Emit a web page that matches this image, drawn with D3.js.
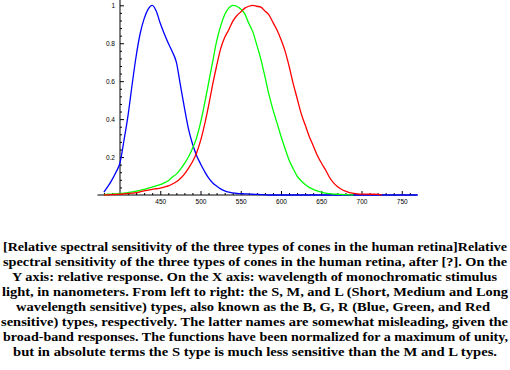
<!DOCTYPE html>
<html>
<head>
<meta charset="utf-8">
<script src="https://cdnjs.cloudflare.com/ajax/libs/d3/7.8.5/d3.min.js"></script>
<style>
  html, body { margin: 0; padding: 0; background: #fff; }
  svg { display: block; }
  .tick text { font-family: "Liberation Sans", Arial, sans-serif; font-size: 6.5px; fill: #000; }
  .caption { font-family: "Liberation Serif", "Times New Roman", serif; font-size: 12.5px; font-weight: bold; fill: #000; }
</style>
</head>
<body>
<svg id="chart" width="510" height="370"></svg>
<script>
// wavelength grid (nm), 5 nm steps
const wavelengths = d3.range(380, 775, 5);

// S cones (blue), relative response
const sValues = [
  0.015, 0.045, 0.08, 0.12, 0.17, 0.29, 0.42, 0.58, 0.73, 0.85,
  0.93, 0.98, 1.0, 0.97, 0.905, 0.85, 0.80, 0.755, 0.70, 0.58,
  0.46, 0.35, 0.27, 0.21, 0.165, 0.125, 0.09, 0.065, 0.047, 0.032,
  0.022, 0.015, 0.011, 0.008, 0.007, 0.006, 0.005, 0.004, 0.003, 0.002,
  0.001, 0, 0, 0, 0, 0, 0, 0, 0, 0,
  0, 0, 0, 0, 0, 0, 0, 0, 0, 0,
  0, 0, 0, 0, 0, 0, 0, 0, 0, 0,
  0, 0, 0, 0, 0, 0, 0, 0, 0
];

// M cones (green)
const mValues = [
  0.002, 0.004, 0.005, 0.006, 0.008, 0.01, 0.012, 0.016, 0.02, 0.025,
  0.03, 0.036, 0.042, 0.048, 0.055, 0.064, 0.075, 0.095, 0.11, 0.135,
  0.165, 0.20, 0.245, 0.30, 0.38, 0.48, 0.59, 0.70, 0.81, 0.89,
  0.95, 0.985, 1.0, 0.995, 0.98, 0.955, 0.905, 0.86, 0.79, 0.715,
  0.625, 0.53, 0.45, 0.38, 0.31, 0.245, 0.185, 0.14, 0.10, 0.075,
  0.055, 0.04, 0.03, 0.022, 0.015, 0.01, 0.007, 0.005, 0.004, 0.003,
  0.002, 0.001, 0
];

// L cones (red)
const lValues = [
  0, 0.001, 0.002, 0.003, 0.004, 0.006, 0.008, 0.01, 0.012, 0.017,
  0.022, 0.026, 0.03, 0.033, 0.036, 0.042, 0.048, 0.058, 0.07, 0.087,
  0.11, 0.14, 0.175, 0.22, 0.285, 0.37, 0.47, 0.58, 0.68, 0.77,
  0.83, 0.87, 0.915, 0.945, 0.965, 0.985, 0.995, 1.0, 0.995, 0.99,
  0.97, 0.95, 0.91, 0.87, 0.82, 0.76, 0.68, 0.59, 0.51, 0.43,
  0.37, 0.31, 0.26, 0.21, 0.17, 0.135, 0.095, 0.065, 0.045, 0.03,
  0.02, 0.013, 0.009, 0.006, 0.005, 0.005, 0.004, 0.004, 0.003, 0
];

const xTickValues = [450, 500, 550, 600, 650, 700, 750];
const yTickValues = [0.2, 0.4, 0.6, 0.8, 1];

const captionLines = [
  "[Relative spectral sensitivity of the three types of cones in the human retina]Relative",
  "spectral sensitivity of the three types of cones in the human retina, after [?]. On the",
  "Y axis: relative response. On the X axis: wavelength of monochromatic stimulus",
  "light, in nanometers. From left to right: the S, M, and L (Short, Medium and Long",
  "wavelength sensitive) types, also known as the B, G, R (Blue, Green, and Red",
  "sensitive) types, respectively. The latter names are somewhat misleading, given the",
  "broad-band responses. The functions have been normalized for a maximum of unity,",
  "but in absolute terms the S type is much less sensitive than the M and L types."
];

const series = [
  { name: "S", values: sValues, color: "#0000ff" },
  { name: "M", values: mValues, color: "#00ff00" },
  { name: "L", values: lValues, color: "#ff0000" }
];

const svg = d3.select("#chart");

const x = d3.scaleLinear().domain([400, 750]).range([120, 401.75]);
const y = d3.scaleLinear().domain([0, 1]).range([195, 5.3]);

// axis lines (Mathematica style, crossing at 400 nm / 0)
svg.append("line")
  .attr("x1", x(372)).attr("x2", x(769))
  .attr("y1", y(0)).attr("y2", y(0))
  .attr("stroke", "#000").attr("stroke-width", 1);
svg.append("line")
  .attr("x1", x(400)).attr("x2", x(400))
  .attr("y1", y(0)).attr("y2", y(1.028))
  .attr("stroke", "#000").attr("stroke-width", 1);

// x axis: major + minor ticks pointing up
const xAxis = d3.axisBottom(x)
  .tickValues(xTickValues)
  .tickSizeInner(-4).tickSizeOuter(0).tickPadding(6)
  .tickFormat(d3.format("d"));
const xMinor = d3.axisBottom(x)
  .tickValues(d3.range(380, 770, 10).filter(d => d % 50 !== 0))
  .tickSizeInner(-2).tickSizeOuter(0).tickFormat("");

const gx = svg.append("g").attr("transform", `translate(0,${y(0)})`).call(xAxis);
const gxm = svg.append("g").attr("transform", `translate(0,${y(0)})`).call(xMinor);

// y axis: major + minor ticks pointing right
const yAxis = d3.axisLeft(y)
  .tickValues(yTickValues)
  .tickSizeInner(-4).tickSizeOuter(0).tickPadding(5)
  .tickFormat(d => d === 1 ? "1" : d3.format(".1f")(d));
const yMinor = d3.axisLeft(y)
  .tickValues(d3.range(0.04, 1.03, 0.04).filter(d => Math.abs(d * 5 - Math.round(d * 5)) > 1e-6))
  .tickSizeInner(-2).tickSizeOuter(0).tickFormat("");

const gy = svg.append("g").attr("transform", `translate(${x(400)},0)`).call(yAxis);
const gym = svg.append("g").attr("transform", `translate(${x(400)},0)`).call(yMinor);

[gx, gxm, gy, gym].forEach(g => {
  g.select(".domain").remove();
  g.selectAll(".tick line").attr("stroke", "#000").attr("stroke-width", 1);
});
gx.selectAll(".tick text").attr("dy", "0.5em");

// curves
const line = d3.line()
  .x(d => x(d[0]))
  .y(d => y(d[1]))
  .curve(d3.curveMonotoneX);

series.forEach(s => {
  const pts = s.values.map((v, i) => [wavelengths[i], v]);
  svg.append("path")
    .datum(pts)
    .attr("fill", "none")
    .attr("stroke", s.color)
    .attr("stroke-width", 1.3)
    .attr("d", line);
});

// caption, centered lines stretched to the measured line widths
const captionSpans = [
  [3, 507], [3, 507], [12, 497], [2, 508], [16, 490], [1, 508], [3, 508], [13, 497]
];
svg.append("g").selectAll("text")
  .data(captionLines)
  .join("text")
  .attr("class", "caption")
  .attr("x", (d, i) => captionSpans[i][0])
  .attr("y", (d, i) => 251 + i * 15)
  .attr("textLength", (d, i) => captionSpans[i][1] - captionSpans[i][0])
  .attr("lengthAdjust", "spacingAndGlyphs")
  .text(d => d);
</script>
</body>
</html>
